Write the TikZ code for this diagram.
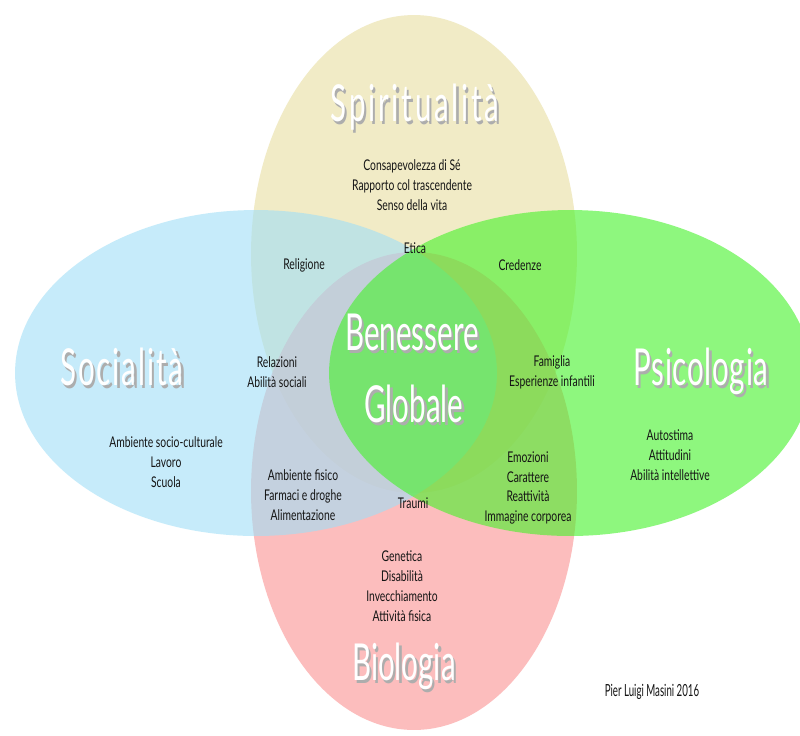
\documentclass[tikz,border=0pt]{standalone}
\usepackage{fontspec}
\usetikzlibrary{shapes.geometric}
\newfontfamily\condfont[FakeStretch=0.7]{Lato}
\newfontfamily\bigfont[FakeStretch=0.58]{Lato}
\definecolor{spircol}{RGB}{241,235,198}
\definecolor{biocol}{RGB}{251,161,161}
\definecolor{soccol}{RGB}{160,223,247}
\definecolor{psicol}{RGB}{68,243,40}
\newcommand{\shadowtxt}[1]{\rlap{\kern1.3pt\raisebox{-1.8pt}{\color{black!32}#1}}{\color{white}#1}}
\tikzset{myellipse/.style={
  shape=ellipse,
  inner sep=0pt,
  draw=none,
  },
  myvert/.style={myellipse, minimum width=6.52cm, minimum height=9.56cm},
  myhoriz/.style={myellipse, minimum width=9.64cm, minimum height=6.52cm},
  mylabel/.style={
  font=\condfont\fontsize{8.4}{11.3}\selectfont,
  text=black!92,
  align=center,
  inner sep=0pt,
  },
  mytitle/.style={
  font=\bigfont\fontsize{29}{41}\selectfont,
  anchor=base,
  inner sep=0pt,
  },
}

\begin{document}
\begin{tikzpicture}[x=0.02cm, y=-0.02cm]
  \useasboundingbox (0,0) rectangle (800,735);
  \fill[white] (0,0) rectangle (800,735);
  \begin{scope}
    \clip (0,0) rectangle (800,735);
    \node[myvert, fill=spircol] (spir) at (414,254) {};
    \node[myvert, fill=biocol, fill opacity=0.7] (bio) at (414,491) {};
    \node[myhoriz, fill=soccol, fill opacity=0.6] (soc) at (256,373) {};
    \node[myhoriz, fill=psicol, fill opacity=0.6] (psi) at (570,373) {};
  \end{scope}

  % titles
  \node[mytitle] (spirt) at (415,121) {\addfontfeature{LetterSpace=5.4}\shadowtxt{Spiritualità}};
  \node[mytitle] (soct)  at (122,385) {\addfontfeature{LetterSpace=3.7}\shadowtxt{Socialità}};
  \node[mytitle] (psit)  at (701,385) {\addfontfeature{LetterSpace=1.4}\shadowtxt{Psicologia}};
  \node[mytitle] (biot)  at (404,680) {\shadowtxt{Biologia}};
  \node[mytitle] (ben)   at (412,350) {\shadowtxt{Benessere}};
  \node[mytitle] (glob)  at (414,422) {\shadowtxt{Globale}};

  % items
  \node[mylabel] (spiri) at (412,185) {Consapevolezza di Sé\\Rapporto col trascendente\\Senso della vita};
  \node[mylabel] (etica) at (415,248) {Etica};
  \node[mylabel] (relig) at (304,265) {Religione};
  \node[mylabel] (cred)  at (520,265) {Credenze};
  \node[mylabel] (relaz) at (277,372) {Relazioni\\Abilità sociali};
  \node[mylabel] (fam)   at (552,372) {Famiglia\\Esperienze infantili};
  \node[mylabel] (soci)  at (166,462) {Ambiente socio-culturale\\Lavoro\\Scuola};
  \node[mylabel] (amb)   at (303,495) {Ambiente fisico\\Farmaci e droghe\\Alimentazione};
  \node[mylabel] (traumi) at (413,503) {Traumi};
  \node[mylabel] (emoz)  at (528,488) {Emozioni\\Carattere\\Reattività\\Immagine corporea};
  \node[mylabel] (psii)  at (670,455) {Autostima\\Attitudini\\Abilità intellettive};
  \node[mylabel] (bioi)  at (402,586) {Genetica\\Disabilità\\Invecchiamento\\Attività fisica};
  \node[mylabel, font=\bigfont\fontsize{9.5}{11}\selectfont] (autore) at (652,692) {Pier Luigi Masini 2016};
\end{tikzpicture}
\end{document}
